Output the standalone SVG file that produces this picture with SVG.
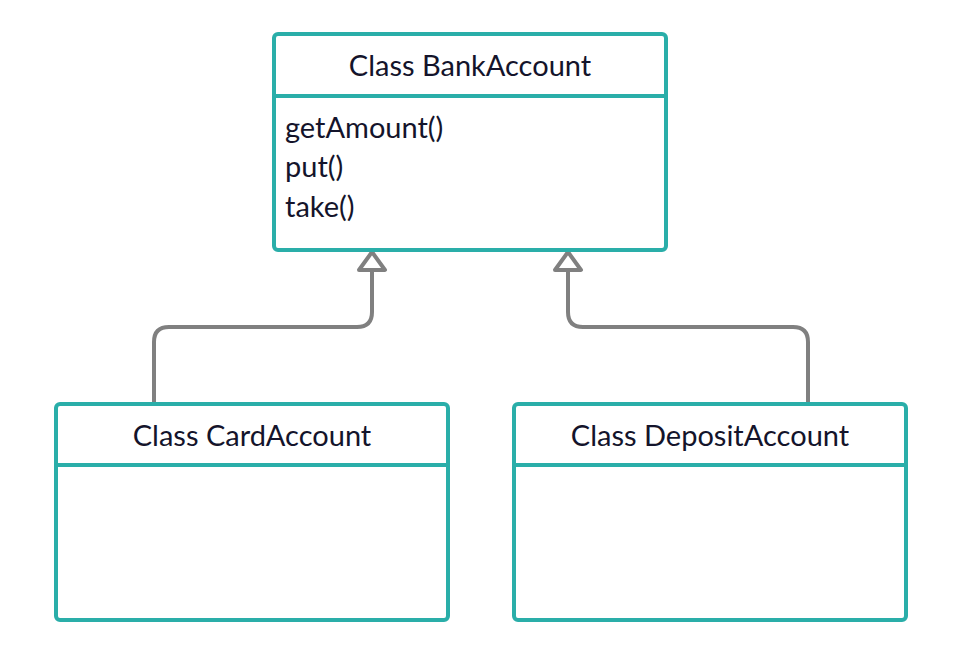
<svg xmlns="http://www.w3.org/2000/svg" width="965" height="646" viewBox="0 0 965 646">
<style>
.box{fill:#ffffff;stroke:#2aaea9;stroke-width:4}
.div{stroke:#2aaea9;stroke-width:4}
.t{font-family:Lato,"Liberation Sans",sans-serif;font-size:29px;fill:#14142b}
.c{text-anchor:middle}
.con{fill:none;stroke:#808080;stroke-width:4;stroke-linejoin:round}
.arr{fill:#ffffff;stroke:#808080;stroke-width:4;stroke-linejoin:round}
</style>
<rect width="965" height="646" fill="#ffffff"/>
<g id="connectors">
<path class="con" d="M154,403 V342 Q154,327 169,327 H357 Q372,327 372,312 V270"/>
<path class="con" d="M808,403 V342 Q808,327 793,327 H583 Q568,327 568,312 V270"/>
<path class="arr" d="M372,252 L385,270 L359,270 Z"/>
<path class="arr" d="M568,252 L581,270 L555,270 Z"/>
</g>
<g id="BankAccount">
<rect class="box" x="274" y="34" width="392" height="216" rx="4"/>
<line class="div" x1="274" y1="96" x2="666" y2="96"/>
<text class="t c" x="470" y="76">Class BankAccount</text>
<text class="t" x="285" y="138">getAmount()</text>
<text class="t" x="285" y="177">put()</text>
<text class="t" x="285" y="217">take()</text>
</g>
<g id="CardAccount">
<rect class="box" x="56" y="404" width="392" height="216" rx="4"/>
<line class="div" x1="56" y1="465" x2="448" y2="465"/>
<text class="t c" x="252" y="446">Class CardAccount</text>
</g>
<g id="DepositAccount">
<rect class="box" x="514" y="404" width="392" height="216" rx="4"/>
<line class="div" x1="514" y1="465" x2="906" y2="465"/>
<text class="t c" x="710" y="446">Class DepositAccount</text>
</g>
</svg>
